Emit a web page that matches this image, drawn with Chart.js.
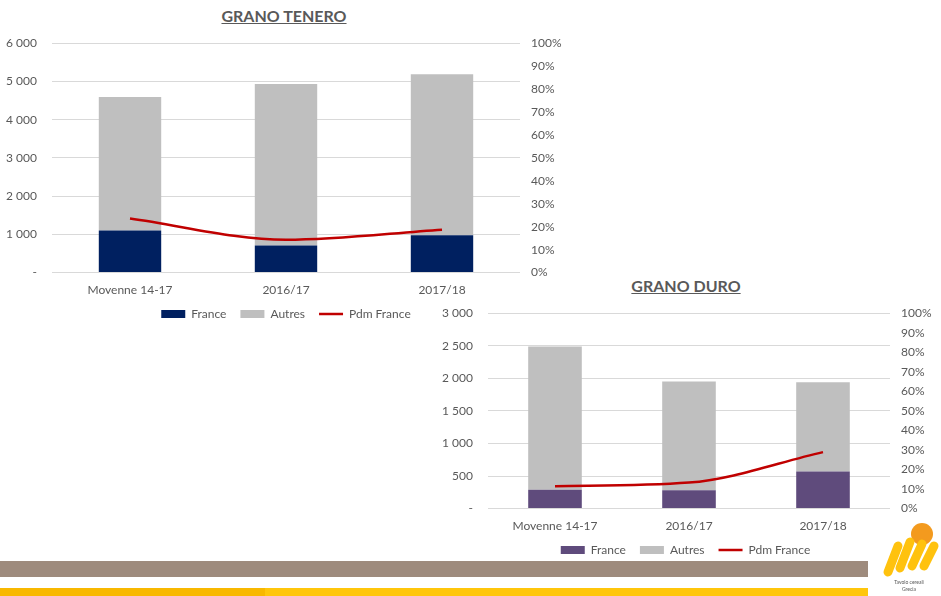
<!doctype html>
<html lang="it">
<head>
<meta charset="utf-8">
<title>Grano tenero / Grano duro</title>
<script src="https://cdn.jsdelivr.net/npm/chart.js"></script>
<style>
  body { margin:0; width:941px; height:596px; position:relative; overflow:hidden; background:#fff; font-family: Lato, "Open Sans", sans-serif; }
  .titolo { position:absolute; font-weight:bold; font-size:16px; color:#595959; text-decoration:underline; text-align:center; }
  .box { position:absolute; }
  canvas { position:absolute; }
</style>
</head>
<body>
<div class="titolo" style="left:184px; top:6px; width:200px;">GRANO TENERO</div>
<div class="titolo" style="left:586px; top:276px; width:200px;">GRANO DURO</div>

<canvas id="tenero" width="572" height="309" style="left:0; top:21px;"></canvas>
<canvas id="duro" width="511" height="275" style="left:430px; top:291px;"></canvas>

<div class="box" style="left:0; top:561px; width:868px; height:16px; background:#9e8b7d;"></div>
<div class="box" style="left:0; top:588px; width:868px; height:8px; background:#ffc60b;"></div>
<div class="box" style="left:0; top:588px; width:265px; height:8px; background:#f8b800;"></div>

<svg class="box" style="left:878px; top:516px;" width="63" height="80">
  <circle cx="44" cy="18" r="11" fill="#f39a1e"/>
  <path d="M10 56 L20 30 M22 52 L32 26 M34 50 L44 28 M46 50 L56 30" stroke="#ffc20e" stroke-width="9" stroke-linecap="round" fill="none"/>
  <text x="31" y="68" font-size="5" text-anchor="middle" fill="#555">Tavolo cereali</text>
  <text x="31" y="75" font-size="5" text-anchor="middle" fill="#555">Grecia</text>
</svg>

<script>
  const categorie = ['Moyenne 14-17', '2016/17', '2017/18'];

  // grano tenero (kt)
  const teneroFrance = [1100, 710, 980];
  const teneroAutres = [3490, 4220, 4210];
  const teneroPdm = [23.6, 14.3, 18.7];

  // grano duro (kt)
  const duroFrance = [290, 280, 570];
  const duroAutres = [2200, 1670, 1370];
  const duroPdm = [11.5, 13.3, 28.9];

  const grigio = '#595959';
  const font = { family: 'Lato, "Open Sans", sans-serif', size: 12 };

  function migliaia(v) {
    if (v === 0) return '-';
    return String(v).replace(/\B(?=(\d{3})+(?!\d))/g, ' ');
  }

  function grafico(id, coloreFrance, france, autres, pdm, yMax, yStep, larghSx, larghDx) {
    new Chart(document.getElementById(id), {
      type: 'bar',
      data: {
        labels: categorie,
        datasets: [
          {
            label: 'France',
            data: france,
            backgroundColor: coloreFrance,
            borderWidth: 0,
            pointStyle: 'rect',
            barPercentage: 0.4,
            categoryPercentage: 1,
            order: 1,
            yAxisID: 'y'
          },
          {
            label: 'Autres',
            data: autres,
            backgroundColor: '#bfbfbf',
            borderWidth: 0,
            pointStyle: 'rect',
            barPercentage: 0.4,
            categoryPercentage: 1,
            order: 1,
            yAxisID: 'y'
          },
          {
            type: 'line',
            label: 'Pdm France',
            data: pdm,
            borderColor: '#c00000',
            backgroundColor: '#c00000',
            borderWidth: 2.5,
            pointStyle: 'line',
            pointBorderColor: '#c00000',
            pointBackgroundColor: '#c00000',
            pointBorderWidth: 2.5,
            pointRadius: 0,
            pointHoverRadius: 0,
            cubicInterpolationMode: 'monotone',
            fill: false,
            order: 0,
            yAxisID: 'y1'
          }
        ]
      },
      options: {
        responsive: false,
        animation: false,
        layout: { padding: 0 },
        plugins: {
          tooltip: { enabled: false },
          legend: {
            position: 'bottom',
            labels: {
              usePointStyle: true,
              pointStyleWidth: 24,
              boxHeight: 8,
              padding: 14,
              color: grigio,
              font: font,
              sort: (a, b) => a.datasetIndex - b.datasetIndex
            }
          }
        },
        scales: {
          x: {
            stacked: true,
            grid: { display: false, drawTicks: false },
            border: { display: false },
            ticks: { color: grigio, font: font, padding: 10 },
            afterFit: s => { s.height = s.height - 13; }
          },
          y: {
            stacked: true,
            min: 0,
            max: yMax,
            grid: { color: '#d9d9d9', drawTicks: false },
            border: { display: false },
            ticks: { stepSize: yStep, autoSkip: false, color: grigio, font: font, padding: 15, callback: migliaia },
            afterFit: s => { s.width = larghSx; }
          },
          y1: {
            position: 'right',
            min: 0,
            max: 100,
            grid: { drawOnChartArea: false, drawTicks: false },
            border: { display: false },
            ticks: { stepSize: 10, autoSkip: false, color: grigio, font: font, padding: 11, callback: v => v + '%' },
            afterFit: s => { s.width = larghDx; }
          }
        }
      }
    });
  }

  grafico('tenero', '#002060', teneroFrance, teneroAutres, teneroPdm, 6000, 1000, 52, 52);
  grafico('duro', '#5f4b7c', duroFrance, duroAutres, duroPdm, 3000, 500, 58, 51);
</script>
</body>
</html>
